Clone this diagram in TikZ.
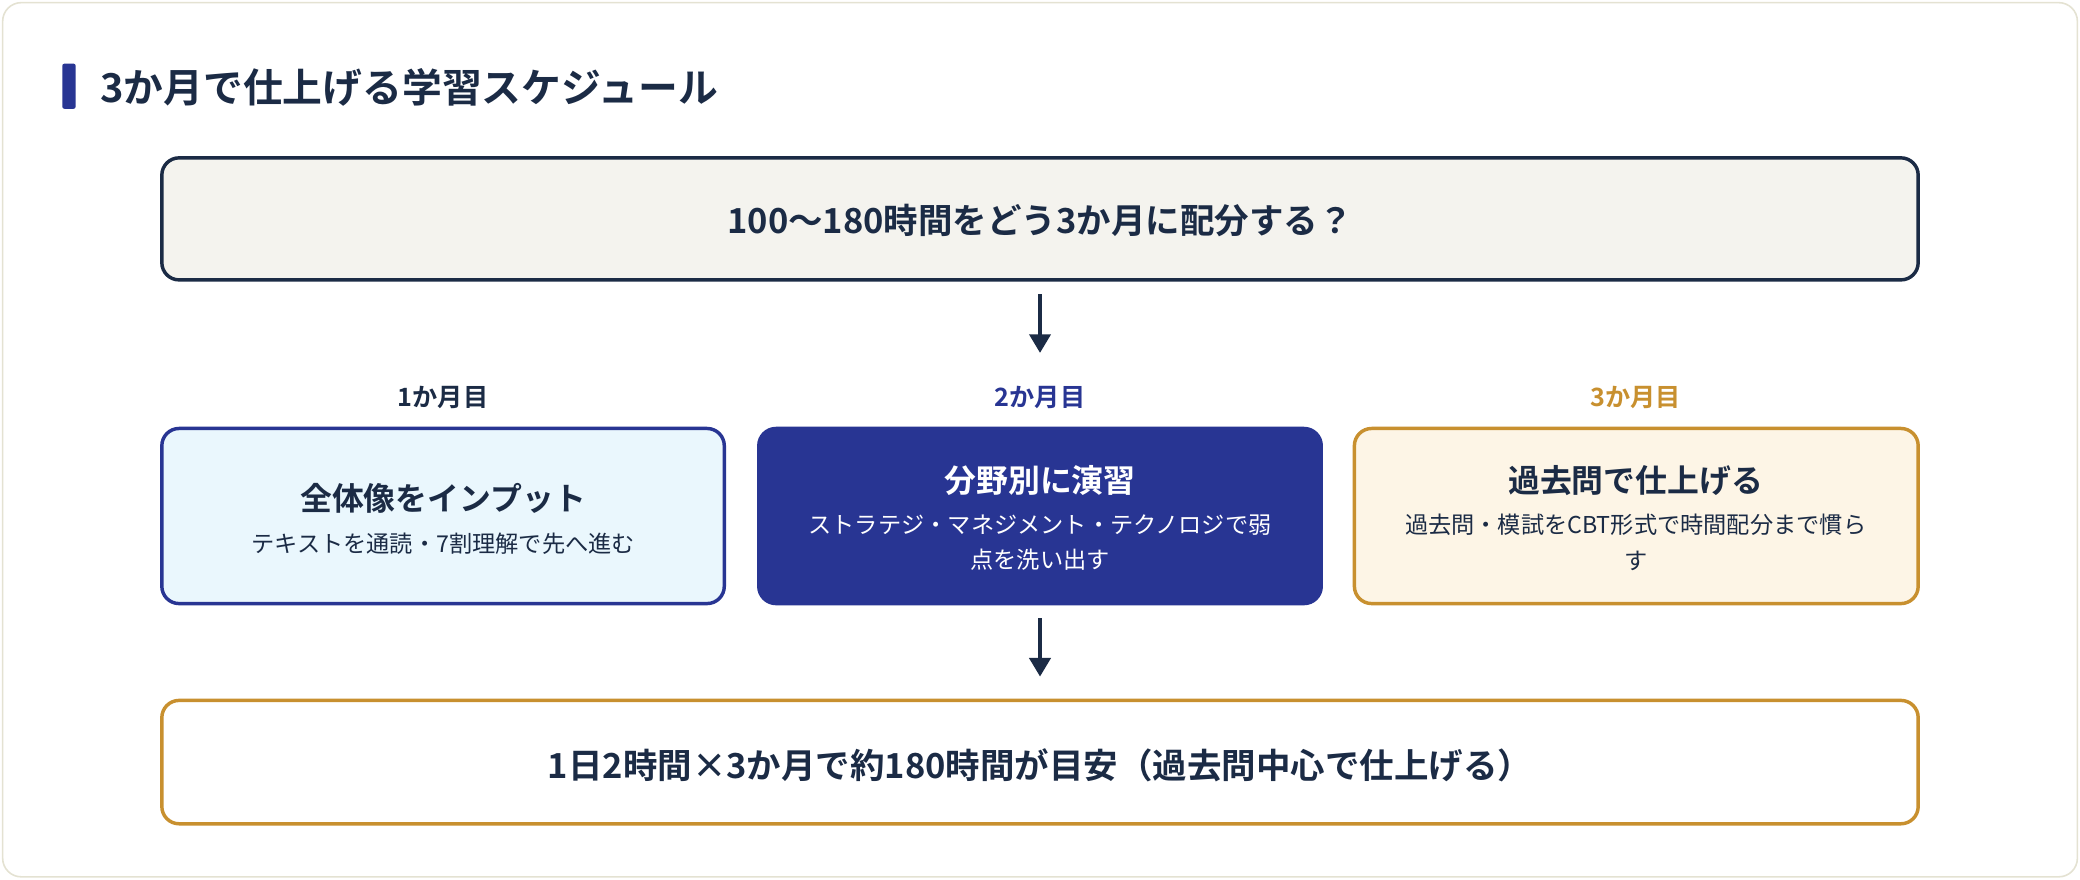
\documentclass[tikz,border=0pt]{standalone}
\usepackage{fontspec}
\setmainfont{Noto Sans CJK JP}[BoldFont={Noto Sans CJK JP Bold}]
\usetikzlibrary{arrows.meta}
\definecolor{navy}{HTML}{1B2B45}
\definecolor{indigo}{HTML}{283593}
\definecolor{gold}{HTML}{C8902F}
\definecolor{cream}{HTML}{F4F3EE}
\definecolor{sky}{HTML}{EAF7FD}
\definecolor{pale}{HTML}{FDF5E6}
\definecolor{edge}{HTML}{E4E2D2}
\begin{document}
\begin{tikzpicture}[x=1pt,y=-1pt,
  box/.style={rounded corners=13pt,line width=2.6pt},
  arr/.style={-{Triangle[length=14pt,width=16pt]},line width=2.6pt,draw=navy},
  big/.style={font=\fontsize{26}{32}\selectfont\bfseries,text=navy},
  lab/.style={font=\fontsize{19}{24}\selectfont\bfseries},
  ttl/.style={font=\fontsize{24}{30}\selectfont\bfseries},
  sub/.style={font=\fontsize{17.5}{27}\selectfont,align=center}]
\useasboundingbox (0,0) rectangle (1568,663);
\draw[edge,fill=white,line width=1.2pt,rounded corners=14pt] (2,2) rectangle (1566,661);
\fill[indigo,rounded corners=1.5pt] (47,48) rectangle (57,82);
\node[anchor=west,font=\fontsize{30}{36}\selectfont\bfseries,text=navy] (title) at (72,66) {3か月で仕上げる学習スケジュール};
\draw[box,draw=navy,fill=cream] (122,119) rectangle (1446,211);
\node[big] (q) at (784,166) {100〜180時間をどう3か月に配分する？};
\coordinate (q1) at (784,222); \coordinate (m2) at (784,266);
\draw[arr] (q1) -- (m2);
\node[lab,text=navy] (l1) at (334,300) {1か月目};
\node[lab,text=indigo] (l2) at (784,300) {2か月目};
\node[lab,text=gold] (l3) at (1233,300) {3か月目};
\draw[box,draw=indigo,fill=sky] (122,323) rectangle (546,455);
\draw[box,draw=indigo,fill=indigo] (572,323) rectangle (996,455);
\draw[box,draw=gold,fill=pale] (1021,323) rectangle (1446,455);
\node[ttl,text=navy] (t1) at (334,376) {全体像をインプット};
\node[sub,text=navy] (s1) at (334,410) {テキストを通読・7割理解で先へ進む};
\node[ttl,text=white] (t2) at (784,362) {分野別に演習};
\node[sub,text=white] (s2) at (784,409) {ストラテジ・マネジメント・テクノロジで弱\\点を洗い出す};
\node[ttl,text=navy] (t3) at (1233,362) {過去問で仕上げる};
\node[sub,text=navy] (s3) at (1233,409) {過去問・模試をCBT形式で時間配分まで慣ら\\す};
\coordinate (b1) at (784,466); \coordinate (b2) at (784,510);
\draw[arr] (b1) -- (b2);
\draw[box,draw=gold,fill=white] (122,528) rectangle (1446,621);
\node[big] (sum) at (784,577) {1日2時間×3か月で約180時間が目安（過去問中心で仕上げる）};
\end{tikzpicture}
\end{document}
